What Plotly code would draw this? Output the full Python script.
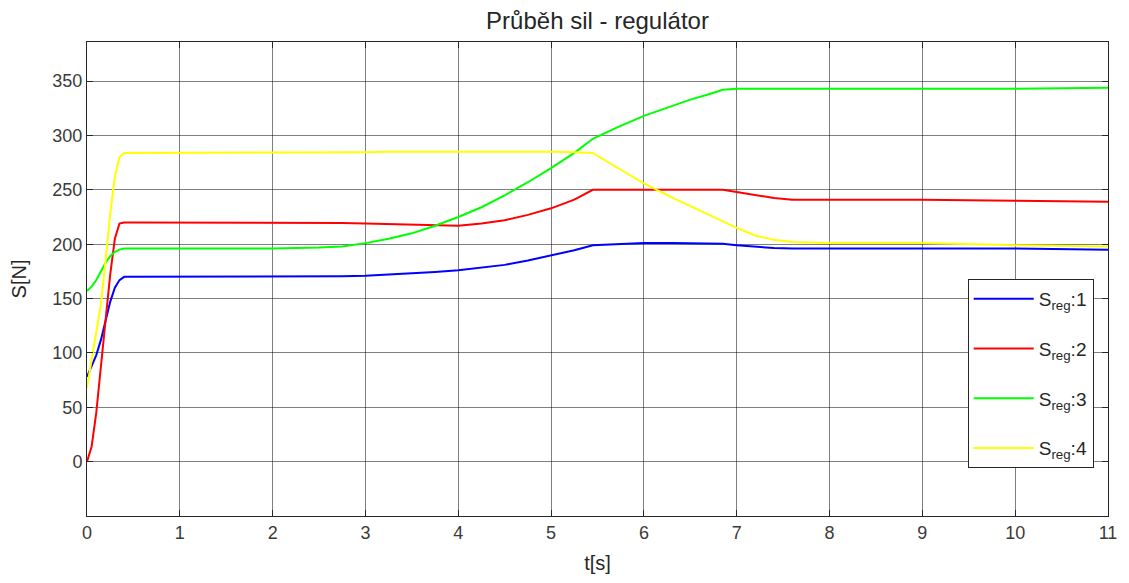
import plotly.graph_objects as go

# Time samples [s]
t = [0, 0.05, 0.1, 0.15, 0.2, 0.25, 0.3, 0.35, 0.4, 0.5, 1, 2, 2.5, 2.75, 3, 3.25, 3.5,
     3.75, 4, 4.25, 4.5, 4.75, 5, 5.25, 5.45, 5.7, 6, 6.3, 6.5, 6.7, 6.85, 7, 7.2, 7.4,
     7.6, 8, 9, 10, 11]

# Regulator forces [N]
s_reg1 = [78, 88, 98, 112, 130, 147, 160, 167, 170, 170, 170, 170, 170, 170.5, 171, 172, 173,
          174.5, 176, 178.5, 181, 185, 189.5, 194.5, 199, 200, 201, 201, 201, 200.5, 200.5, 199, 197.5, 196.5,
          196, 196, 196, 196, 195]
s_reg2 = [0, 14, 45, 85, 130, 172, 205, 219, 220, 220, 220, 220, 220, 219.5, 219, 218.5, 218,
          217.5, 217, 219, 222, 227, 233, 241, 250, 250, 250, 250, 250, 250, 250, 248, 245, 242.5,
          241, 241, 241, 240, 239]
s_reg3 = [157, 161, 167, 175, 183, 189, 193, 195, 196, 196, 196, 196, 197, 198, 201, 205, 210,
          217, 225, 234, 245, 257, 270, 284, 297, 307, 318, 327, 333, 338, 342, 343, 343, 343,
          343, 343, 343, 343, 344]
s_reg4 = [68, 95, 122, 145, 185, 228, 262, 280, 284, 284, 284, 284, 284, 284.5, 284.5, 285, 285,
          285.5, 285.5, 285.5, 285.5, 285.5, 285, 284.5, 284, 271, 256, 243, 235, 227, 221, 215, 208, 204,
          202, 201, 201, 199, 198]

series = [
    ("S<sub>reg</sub>:1", s_reg1, "#0000ff"),
    ("S<sub>reg</sub>:2", s_reg2, "#ff0000"),
    ("S<sub>reg</sub>:3", s_reg3, "#00ff00"),
    ("S<sub>reg</sub>:4", s_reg4, "#ffff00"),
]

x_ticks = list(range(0, 12))
y_ticks = [0, 50, 100, 150, 200, 250, 300, 350]

fig = go.Figure()
for i, (name, vals, color) in enumerate(series):
    fig.add_trace(go.Scatter(
        x=t, y=vals, mode="lines", name=name, legendgroup=f"g{i}",
        line=dict(color=color, width=2),
    ))

axis_style = dict(
    showline=True, linecolor="#262626", linewidth=1, mirror="ticks",
    ticks="inside", ticklen=6, tickcolor="#262626",
    showgrid=True, gridcolor="rgba(0,0,0,0.5)", gridwidth=1,
    zeroline=False, tickfont=dict(size=18, color="#3a3a3a"),
)

fig.update_xaxes(range=[0, 11], tickvals=x_ticks,
                 title=dict(text="t[s]", font=dict(size=20, color="#262626"), standoff=14),
                 **axis_style)
fig.update_yaxes(range=[-50, 386], tickvals=y_ticks,
                 title=dict(text="S[N]", font=dict(size=20, color="#262626"), standoff=20),
                 **axis_style)

fig.update_layout(
    width=1129, height=583,
    margin=dict(l=87, r=19, t=42, b=66),
    paper_bgcolor="white", plot_bgcolor="white",
    font=dict(family="Liberation Sans, Arial, sans-serif", color="#262626"),
    title=dict(text="Průběh sil - regulátor", x=0.5, xref="paper", xanchor="center",
               y=0.965, yanchor="middle", font=dict(size=24, color="#262626")),
    legend=dict(
        x=0.986, xanchor="right", y=0.5, yanchor="top",
        bgcolor="white", bordercolor="#262626", borderwidth=1,
        font=dict(size=19, color="#262626"),
        tracegroupgap=22, itemwidth=60,
    ),
)

fig.write_html("out.html")
